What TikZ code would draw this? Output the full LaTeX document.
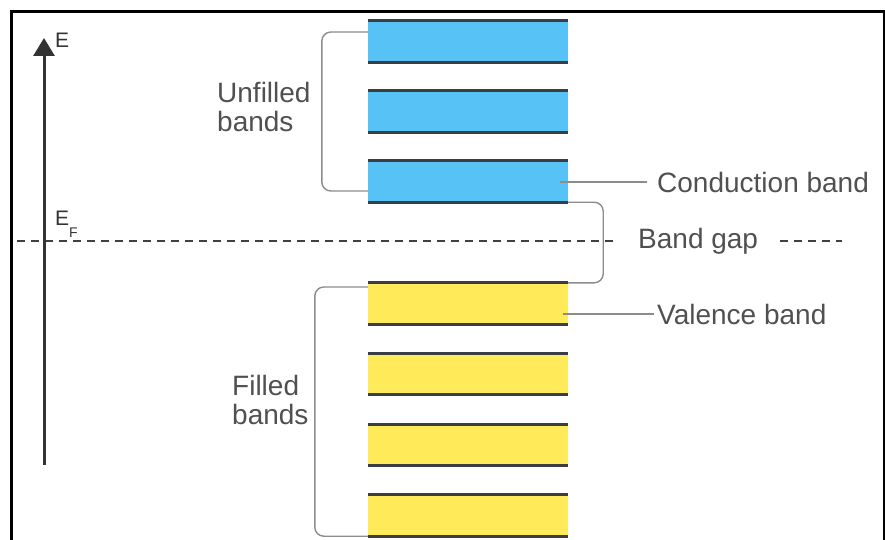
\documentclass[tikz,border=0pt]{standalone}
\usepackage{fontspec}
\setmainfont{Liberation Sans}
\usetikzlibrary{arrows.meta}
\definecolor{bandblue}{RGB}{86,194,246}
\definecolor{bandyellow}{RGB}{255,234,90}
\definecolor{edgecol}{RGB}{58,62,66}
\definecolor{txtcol}{RGB}{80,80,80}
\definecolor{brkcol}{RGB}{140,140,140}
\tikzset{
  band/.style={minimum width=200pt, minimum height=41pt, inner sep=0pt, fill=#1, draw=none},
  bandline/.style={draw=edgecol, line width=3pt},
  brk/.style={draw=brkcol, line width=1.4pt, rounded corners=9pt},
  lead/.style={draw=brkcol, line width=1.4pt},
  lbl/.style={text=txtcol, font=\fontsize{28}{29.5}\selectfont, inner sep=0pt, align=left},
  axislbl/.style={text=black!80, font=\fontsize{21}{24}\selectfont, inner sep=0pt},
  gapline/.style={draw=black!75, line width=1.8pt, dash pattern=on 8pt off 6pt},
  axisline/.style={draw=black!80, line width=3pt, -{Triangle[width=21pt,length=18pt]}},
  frameline/.style={draw=black, line width=3pt}
}
\begin{document}
\begin{tikzpicture}[x=1pt,y=-1pt]
\useasboundingbox (0,0) rectangle (885,540);
% frame
\draw[frameline] (11,560) -- (11,12) -- (884,12) -- (884,560);
% bands
\node[band=bandblue] (u1) at (468,41.5) {};
\node[band=bandblue] (u2) at (468,111.5) {};
\node[band=bandblue] (u3) at (468,181.5) {};
\node[band=bandyellow] (v1) at (468,303.5) {};
\node[band=bandyellow] (v2) at (468,374) {};
\node[band=bandyellow] (v3) at (468,445) {};
\node[band=bandyellow] (v4) at (468,515.5) {};
\foreach \b in {u1,u2,u3,v1,v2,v3,v4}{
  \draw[bandline] (\b.north west) -- (\b.north east);
  \draw[bandline] (\b.south west) -- (\b.south east);
}
% dashed Fermi line
\coordinate (d1) at (17,241);
\coordinate (d2) at (617,241);
\coordinate (d3) at (780,241);
\coordinate (d4) at (842,241);
\draw[gapline] (d1) -- (d2);
\draw[gapline] (d3) -- (d4);
% axis
\coordinate (a0) at (44,465);
\coordinate (a1) at (44,38);
\draw[axisline] (a0) -- (a1);
\node[axislbl, anchor=west] (E) at (55,40) {E};
\node[axislbl, anchor=base west] (EF) at (55,225) {E\raisebox{-12pt}{\fontsize{14}{15}\selectfont F}};
% brackets
\draw[brk] ([yshift=9.5pt]u1.west) -- ++(-46pt,0) |- ([yshift=-9.5pt]u3.west);
\draw[brk] (u3.south east) -- ++(35pt,0) |- (v1.north east);
\draw[brk] ([yshift=16.5pt]v1.west) -- ++(-53pt,0) |- (v4.south west);
% labels
\node[lbl, anchor=west] (unf) at (217,107) {Unfilled\\bands};
\node[lbl, anchor=west] (fil) at (232,400) {Filled\\bands};
\node[lbl, anchor=west] (cb) at (657,182) {Conduction band};
\node[lbl, anchor=west] (bg) at (638,241) {Band gap};
\node[lbl, anchor=west] (vb) at (657,314) {Valence band};
\draw[lead] ([xshift=-8pt,yshift=-0.5pt]u3.east) -- ([xshift=-10pt]cb.west);
\draw[lead] ([xshift=-5pt,yshift=-10.5pt]v1.east) -- ([xshift=-3pt]vb.west);
\end{tikzpicture}
\end{document}
